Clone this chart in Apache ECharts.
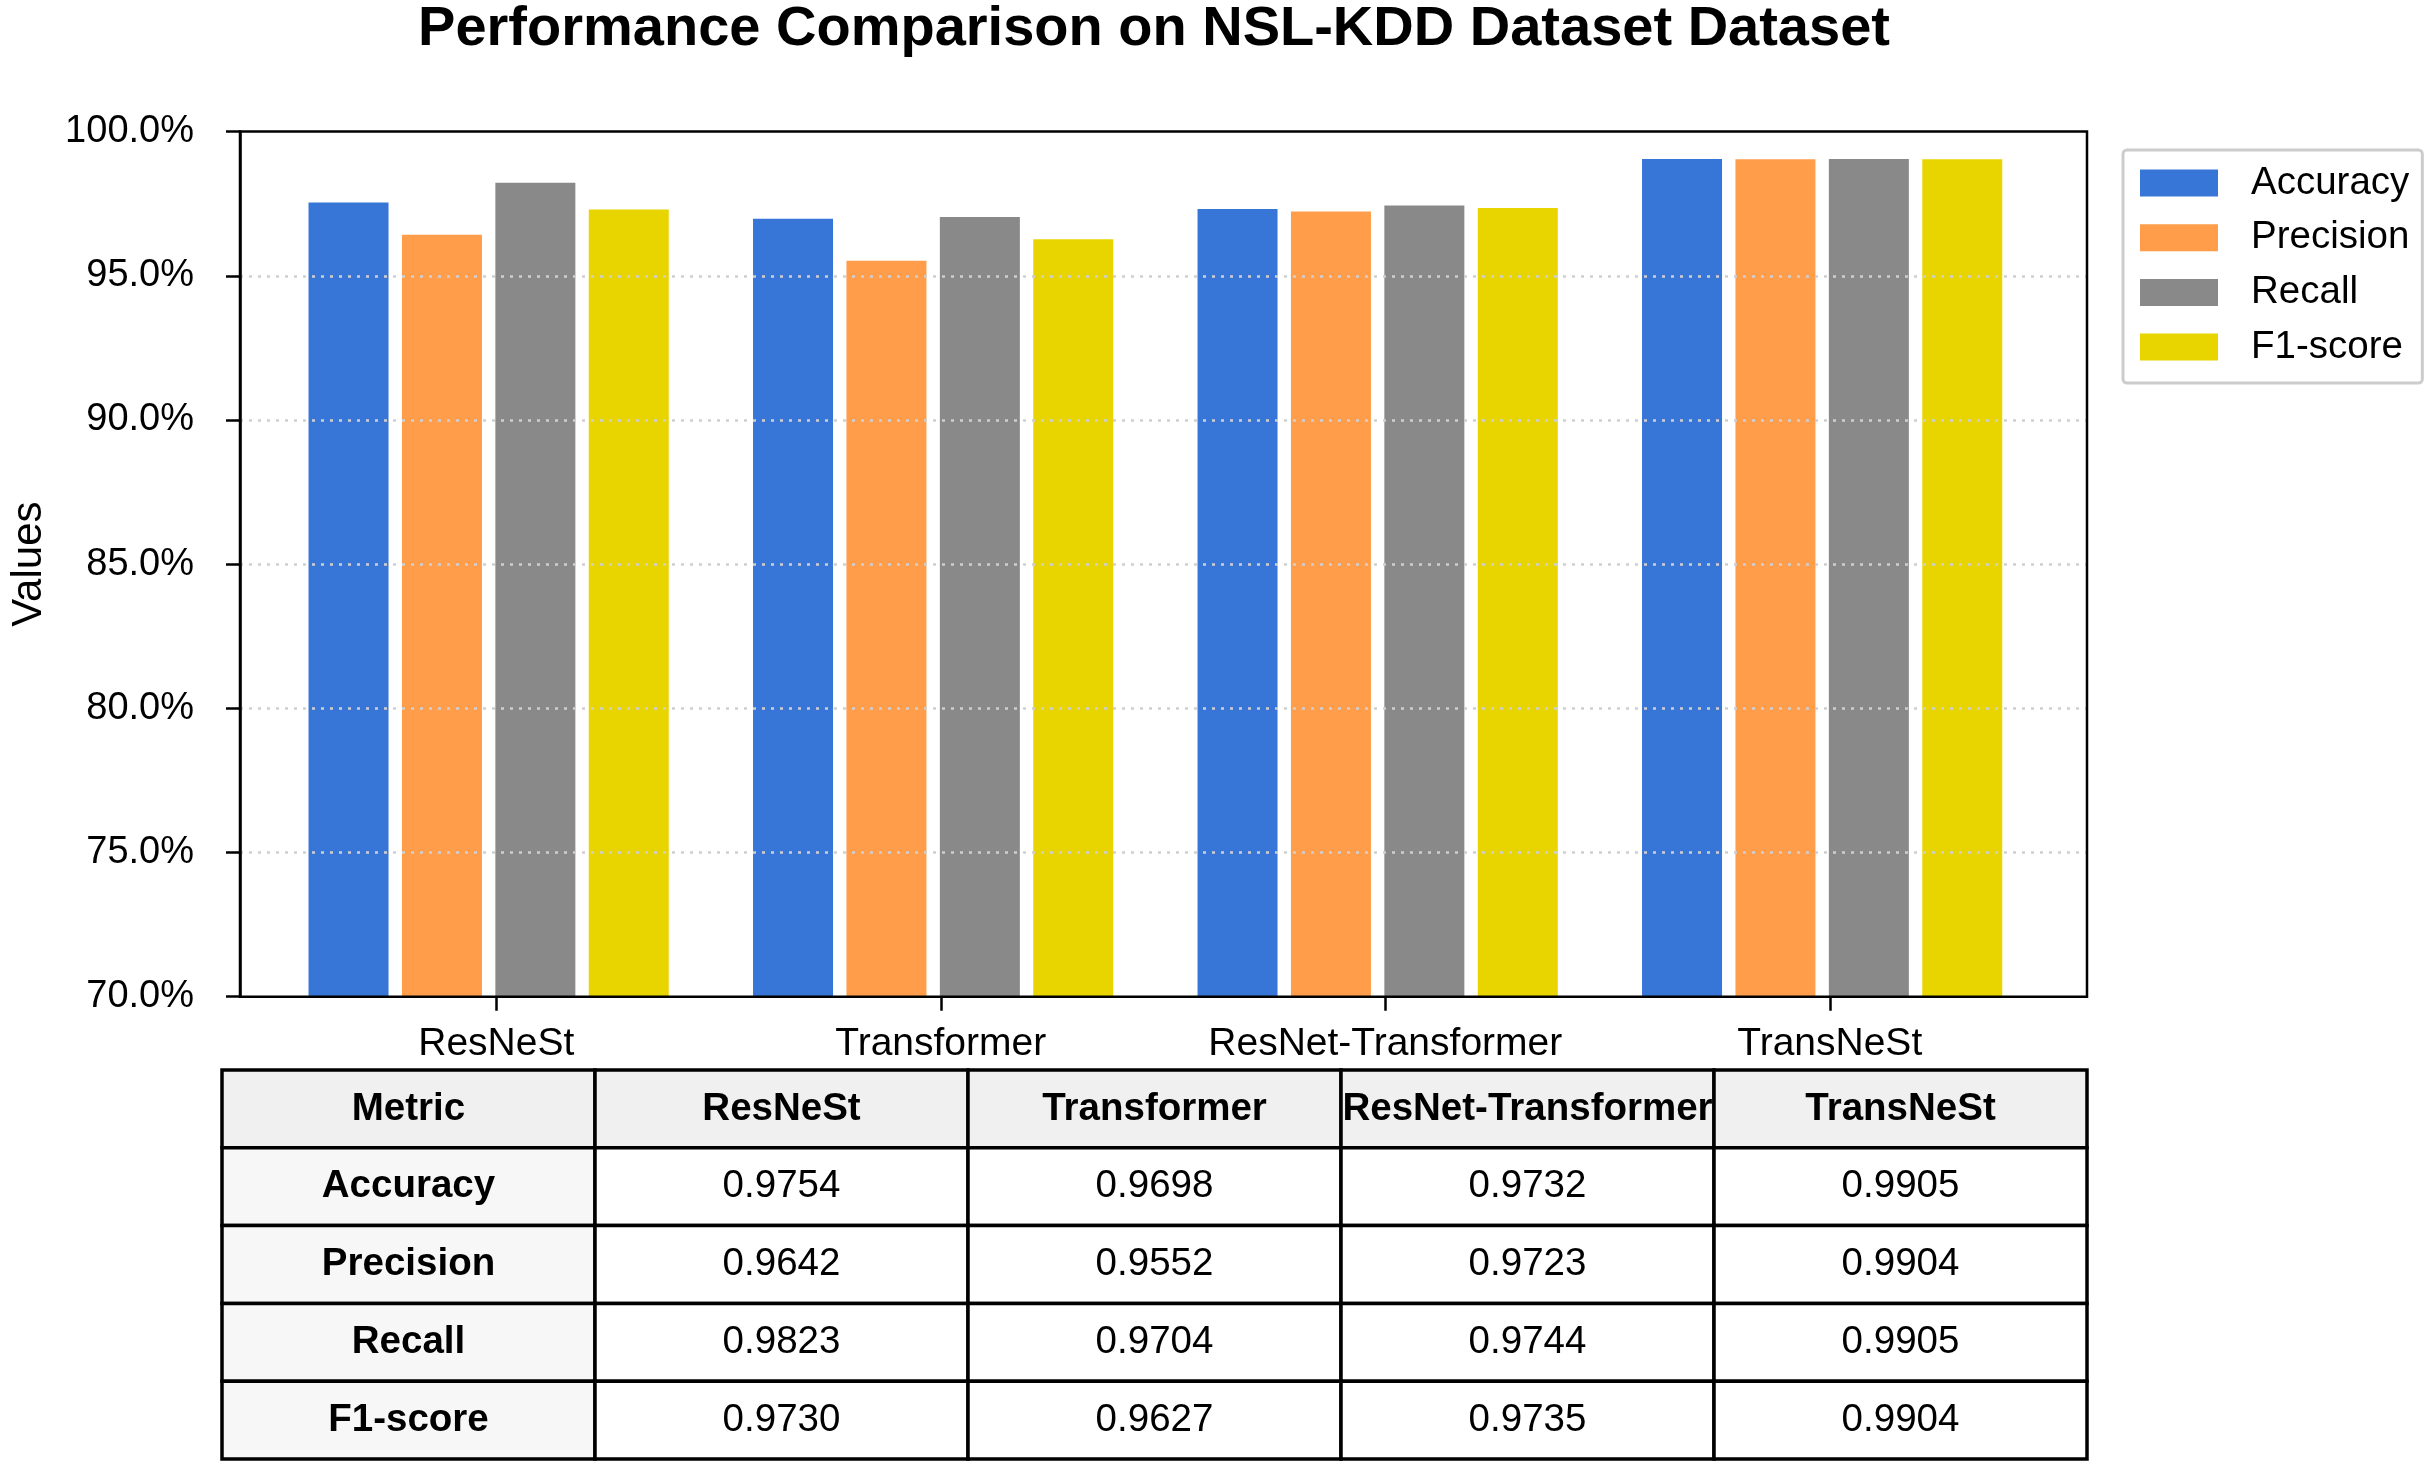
<!DOCTYPE html>
<html>
<head>
<meta charset="utf-8">
<script src="https://cdn.jsdelivr.net/npm/echarts@6/dist/echarts.min.js"></script>
<style>
html,body{margin:0;padding:0;background:#fff;}
#chart{width:2431px;height:1467px;}
</style>
</head>
<body>
<div id="chart"></div>
<script>
var models = ['ResNeSt', 'Transformer', 'ResNet-Transformer', 'TransNeSt'];
var metrics = ['Accuracy', 'Precision', 'Recall', 'F1-score'];
var accuracy  = [0.9754, 0.9698, 0.9732, 0.9905];
var precision = [0.9642, 0.9552, 0.9723, 0.9904];
var recall    = [0.9823, 0.9704, 0.9744, 0.9905];
var f1score   = [0.9730, 0.9627, 0.9735, 0.9904];
var yTicks = [0.70, 0.75, 0.80, 0.85, 0.90, 0.95, 1.00];
var colors = ['#3776D6', '#FF9D4A', '#898989', '#E8D500'];
var seriesValues = [accuracy, precision, recall, f1score];

var FONT = '"Liberation Sans", Arial, Helvetica, sans-serif';
var tableHeader = ['Metric'].concat(models);
var tableRows = ['header'].concat(metrics);

// table cells built from the arrays above
var tableCells = [];
tableHeader.forEach(function (h, c) {
  tableCells.push({ value: [c, 0], text: h, bold: true });
});
metrics.forEach(function (m, r) {
  tableCells.push({ value: [0, r + 1], text: m, bold: true });
  seriesValues[r].forEach(function (v, c) {
    tableCells.push({ value: [c + 1, r + 1], text: v.toFixed(4), bold: false });
  });
});

var chart = echarts.init(document.getElementById('chart'), null, { renderer: 'canvas' });

var plotTop = 131.6, plotHeight = 865.1;
var barSeries = metrics.map(function (m, i) {
  return {
    name: m,
    type: 'bar',
    xAxisIndex: 1,
    yAxisIndex: 1,
    data: seriesValues[i],
    barWidth: '18%',
    barGap: '16.75%',
    itemStyle: { color: colors[i] },
    z: 2
  };
});

var option = {
  animation: false,
  backgroundColor: '#ffffff',
  title: {
    text: 'Performance Comparison on NSL-KDD Dataset Dataset',
    left: 1154,
    top: 2,
    textAlign: 'center',
    padding: 0,
    textStyle: { fontFamily: FONT, fontSize: 56, fontWeight: 'bold', color: '#000' }
  },
  legend: {
    data: metrics,
    orient: 'vertical',
    left: 2123,
    top: 150,
    padding: [13, 13, 16, 17],
    borderColor: '#cccccc',
    borderWidth: 3,
    borderRadius: 4,
    backgroundColor: '#ffffff',
    itemWidth: 78,
    itemHeight: 27,
    itemGap: 14.7,
    icon: 'rect',
    textStyle: { fontFamily: FONT, fontSize: 38.5, lineHeight: 40, color: '#000', padding: [0, 0, 0, 28] }
  },
  grid: [
    { left: 222, top: plotTop, width: 1865, height: plotHeight, show: true, borderColor: '#000', borderWidth: 2.5, backgroundColor: 'transparent', z: 6 },
    { left: 266.4, top: plotTop, width: 1778, height: plotHeight },
    { left: 274, top: plotTop, width: 1778, height: plotHeight },
    { left: 222, top: 1070, width: 1865, height: 389 }
  ],
  xAxis: [
    { type: 'value', gridIndex: 0, min: 0, max: 1, show: false },
    { type: 'category', gridIndex: 1, data: models, show: false },
    {
      type: 'category', gridIndex: 2, data: models,
      axisLine: { show: false },
      axisTick: { show: true, alignWithLabel: true, length: 14, lineStyle: { color: '#000', width: 2.5 } },
      axisLabel: { fontFamily: FONT, fontSize: 39, color: '#000', margin: 28, interval: 0 },
      splitLine: { show: false }
    },
    { type: 'category', gridIndex: 3, data: tableHeader, show: false }
  ],
  yAxis: [
    {
      type: 'value', gridIndex: 0, min: yTicks[0], max: yTicks[yTicks.length - 1], interval: 0.05,
      z: 5,
      name: 'Values',
      nameLocation: 'middle',
      nameGap: 190,
      nameTextStyle: { fontFamily: FONT, fontSize: 42, color: '#000' },
      axisLine: { show: true, lineStyle: { color: '#000', width: 2.5 } },
      axisTick: { show: true, length: 14, lineStyle: { color: '#000', width: 2.5 } },
      axisLabel: {
        fontFamily: FONT, fontSize: 38, color: '#000', margin: 46,
        formatter: function (v) { return (v * 100).toFixed(1) + '%'; }
      },
      splitLine: { show: true, showMinLine: false, showMaxLine: false, lineStyle: { color: '#cfcfcf', width: 2.5, type: [3, 6] } }
    },
    { type: 'value', gridIndex: 1, min: yTicks[0], max: yTicks[yTicks.length - 1], show: false },
    { type: 'value', gridIndex: 2, min: yTicks[0], max: yTicks[yTicks.length - 1], show: false },
    { type: 'category', gridIndex: 3, data: tableRows, inverse: true, show: false }
  ],
  series: barSeries.concat([
    {
      type: 'custom',
      xAxisIndex: 3,
      yAxisIndex: 3,
      data: tableCells.map(function (c) { return c.value; }),
      renderItem: function (params, api) {
        var cell = tableCells[params.dataIndex];
        var col = api.value(0), row = api.value(1);
        var p = api.coord([col, row]);
        var s = api.size([1, 1]);
        var fill = row === 0 ? '#f0f0f0' : (col === 0 ? '#f7f7f7' : '#ffffff');
        return {
          type: 'group',
          children: [
            {
              type: 'rect',
              shape: { x: p[0] - s[0] / 2, y: p[1] - s[1] / 2, width: s[0], height: s[1] },
              style: { fill: fill, stroke: '#000', lineWidth: 3.5 }
            },
            {
              type: 'text',
              z2: 10,
              style: {
                text: cell.text, x: p[0], y: p[1],
                align: 'center', verticalAlign: 'middle',
                textAlign: 'center', textVerticalAlign: 'middle',
                fontFamily: FONT, fontSize: 38.5, fontWeight: cell.bold ? 'bold' : 'normal',
                fill: '#000'
              }
            }
          ]
        };
      },
      z: 3
    }
  ])
};
chart.setOption(option);
</script>
</body>
</html>
